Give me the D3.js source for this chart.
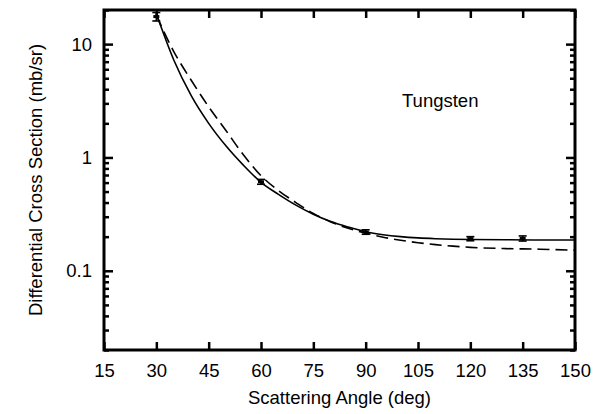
<!DOCTYPE html>
<html>
<head>
<meta charset="utf-8">
<script src="https://cdn.jsdelivr.net/npm/d3@7"></script>
<style>
html,body{margin:0;padding:0;background:#fff;}
svg{display:block;}
text{font-family:"Liberation Sans",Arial,Helvetica,sans-serif;fill:#000;}
</style>
</head>
<body>
<script>
// ---- data ----
const curveAngles = [30,35,40,45,50,55,60,65,70,75,80,85,90,95,100,105,110,115,120,130,140,150];
const solidValues = [18.5,7.24,3.51,2.0,1.26,0.851,0.603,0.473,0.38,0.316,0.272,0.243,0.221,0.208,0.2,0.195,0.192,0.19,0.189,0.188,0.187,0.187];
const dashedValues = [18,8.6,4.8,2.8,1.72,1.05,0.69,0.51,0.4,0.32,0.27,0.237,0.215,0.198,0.186,0.177,0.17,0.165,0.161,0.157,0.155,0.152];
const dataAngles = [30,60,90,120,135];
const dataValues = [17.5,0.61,0.22,0.192,0.193];
const dataErrors = [1.5,0.03,0.01,0.008,0.01];
const xTicks = [15,30,45,60,75,90,105,120,135,150];
const yMajorTicks = [0.1,1,10];
const yTickLabels = ["0.1","1","10"];
const label = "Tungsten";
const xTitle = "Scattering Angle (deg)";
const yTitle = "Differential Cross Section (mb/sr)";

// ---- layout ----
const W = 602, H = 414;
const L = 104, R = 575, T = 10, B = 350;
const FS = "18.5px";

const svg = d3.select("body").append("svg").attr("width", W).attr("height", H);

const x = d3.scaleLinear().domain([15,150]).range([L,R]);
const y = d3.scaleLog().domain([0.02,20]).range([B,T]);

const minorY = [];
[0.01,0.1,1,10].forEach(d => { for (let k=2;k<=9;k++){ const v=+(d*k).toPrecision(3); if (v>=0.02 && v<=20) minorY.push(v);} });

function styleAxis(g){
  g.select(".domain").remove();
  g.selectAll(".tick line").attr("stroke","#000").attr("stroke-width",2.5);
  g.selectAll(".tick text").style("font-size",FS);
}

// bottom axis
svg.append("g").attr("transform",`translate(0,${B})`)
  .call(d3.axisBottom(x).tickValues(xTicks).tickSize(-8).tickPadding(14).tickFormat(d3.format("d")))
  .call(styleAxis);
// top axis
svg.append("g").attr("transform",`translate(0,${T})`)
  .call(d3.axisTop(x).tickValues(xTicks).tickSize(-8).tickFormat(""))
  .call(styleAxis);
// left axis major
svg.append("g").attr("transform",`translate(${L},0)`)
  .call(d3.axisLeft(y).tickValues(yMajorTicks).tickSize(-9).tickPadding(12).tickFormat((d,i)=>yTickLabels[i]))
  .call(styleAxis);
svg.append("g").attr("transform",`translate(${L},0)`)
  .call(d3.axisLeft(y).tickValues(minorY).tickSize(-5).tickFormat(""))
  .call(styleAxis);
// right axis
svg.append("g").attr("transform",`translate(${R},0)`)
  .call(d3.axisRight(y).tickValues(yMajorTicks).tickSize(-9).tickFormat(""))
  .call(styleAxis);
svg.append("g").attr("transform",`translate(${R},0)`)
  .call(d3.axisRight(y).tickValues(minorY).tickSize(-5).tickFormat(""))
  .call(styleAxis);

// frame
svg.append("rect").attr("x",L).attr("y",T).attr("width",R-L).attr("height",B-T)
  .attr("fill","none").attr("stroke","#000").attr("stroke-width",3);

// clip
svg.append("clipPath").attr("id","clip").append("rect")
  .attr("x",L).attr("y",T).attr("width",R-L).attr("height",B-T);

const line = d3.line().x(d=>x(d[0])).y(d=>y(d[1])).curve(d3.curveMonotoneX);

svg.append("path").attr("clip-path","url(#clip)")
  .attr("d", line(curveAngles.map((a,i)=>[a,solidValues[i]])))
  .attr("fill","none").attr("stroke","#000").attr("stroke-width",1.6);

svg.append("path").attr("clip-path","url(#clip)")
  .attr("d", line(curveAngles.map((a,i)=>[a,dashedValues[i]])))
  .attr("fill","none").attr("stroke","#000").attr("stroke-width",1.6)
  .attr("stroke-dasharray","12,6");

// data points with error bars
const pts = svg.append("g");
dataAngles.forEach((a,i)=>{
  const cx = x(a), v = dataValues[i], e = dataErrors[i];
  const y1 = y(v+e), y0 = y(v-e);
  pts.append("line").attr("x1",cx).attr("x2",cx).attr("y1",y1).attr("y2",y0).attr("stroke","#000").attr("stroke-width",1.6);
  pts.append("line").attr("x1",cx-4).attr("x2",cx+4).attr("y1",y1).attr("y2",y1).attr("stroke","#000").attr("stroke-width",1.6);
  pts.append("line").attr("x1",cx-4).attr("x2",cx+4).attr("y1",y0).attr("y2",y0).attr("stroke","#000").attr("stroke-width",1.6);
  pts.append("rect").attr("x",cx-3).attr("y",y(v)-1.5).attr("width",6).attr("height",3).attr("fill","#000");
});

// texts
svg.append("text").attr("x",402).attr("y",107).style("font-size",FS).text(label);
svg.append("text").attr("x",(L+R)/2).attr("y",404).attr("text-anchor","middle").style("font-size",FS).text(xTitle);
svg.append("text").attr("transform",`translate(42,${(T+B)/2}) rotate(-90)`).attr("text-anchor","middle").style("font-size",FS).text(yTitle);
</script>
</body>
</html>
